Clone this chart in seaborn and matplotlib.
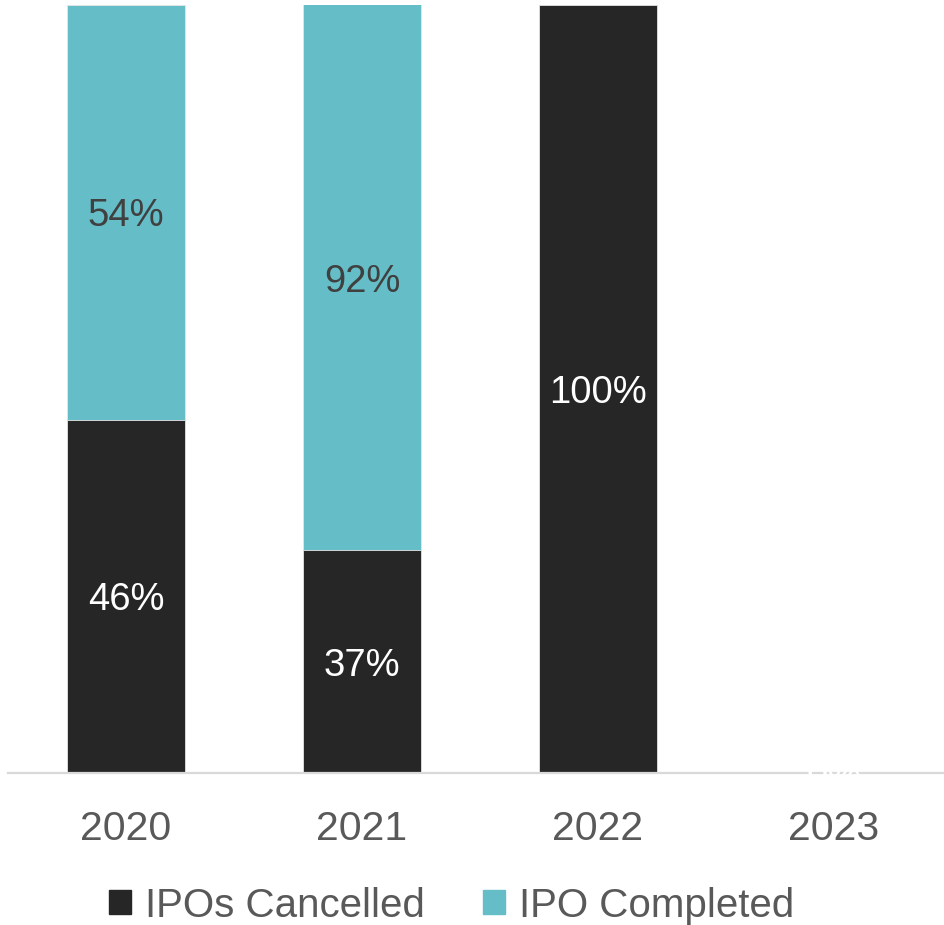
import matplotlib
matplotlib.use("Agg")
import matplotlib.pyplot as plt
from matplotlib.patches import Patch
import seaborn as sns
import pandas as pd

years = ["2020", "2021", "2022", "2023"]
cancelled = [46, 29, 100, 0]          # bar heights (% of axis)
completed = [54, 92, 0, 0]
cancelled_labels = ["46%", "37%", "100%", "0%"]
completed_labels = ["54%", "92%", None, None]
series_names = ["IPOs Cancelled", "IPO Completed"]

BLACK = "#262626"
TEAL = "#65BEC7"

sns.set_theme(style="white")
plt.rcParams["font.family"] = ["Liberation Sans", "DejaVu Sans"]

fig = plt.figure(figsize=(9.45, 9.25), dpi=100)
ax = fig.add_axes([8 / 945, 152 / 925, 944 / 945, 768 / 925])

totals = [c + p for c, p in zip(cancelled, completed)]
df_tot = pd.DataFrame({"year": years, "value": totals})
df_can = pd.DataFrame({"year": years, "value": cancelled})

sns.barplot(data=df_tot, x="year", y="value", order=years, color=TEAL,
            width=0.5, saturation=1, ax=ax, edgecolor="#e6e6e6", linewidth=0.6)
sns.barplot(data=df_can, x="year", y="value", order=years, color=BLACK,
            width=0.5, saturation=1, ax=ax, edgecolor="#e6e6e6", linewidth=0.6)

ax.set_ylim(0, 100)
ax.set_xlim(-0.5, 3.5)
ax.set_xlabel("")
ax.set_ylabel("")
ax.set_yticks([])
for s in ["top", "left", "right"]:
    ax.spines[s].set_visible(False)
ax.spines["bottom"].set_color("#d9d9d9")
ax.spines["bottom"].set_linewidth(1.6)
ax.spines["bottom"].set_zorder(1)
ax.tick_params(axis="x", length=0, pad=27, labelsize=29.5, labelcolor="#595959")

ymax = 100
for i, (c, p) in enumerate(zip(cancelled, completed)):
    cvis = min(c, ymax)
    lab = cancelled_labels[i]
    if lab is not None:
        ax.text(i, cvis / 2, lab, ha="center", va="center_baseline", color="white",
                fontsize=27.5, zorder=5, clip_on=False)
    plab = completed_labels[i]
    if plab is not None:
        top = min(c + p, ymax)
        ax.text(i, (cvis + top) / 2, plab, ha="center", va="center_baseline",
                color="#404040", fontsize=27.5, zorder=5)

handles = [Patch(facecolor=BLACK, edgecolor=BLACK), Patch(facecolor=TEAL, edgecolor=TEAL)]
leg = fig.legend(handles, series_names, loc="center", bbox_to_anchor=(0.478, 0.021),
                 ncol=2, frameon=False, handlelength=0.55, handleheight=0.55,
                 handletextpad=0.35, columnspacing=1.45,
                 prop={"family": ["Liberation Sans Narrow", "Liberation Sans", "DejaVu Sans"], "size": 29})
for t in leg.get_texts():
    t.set_color("#595959")

fig.savefig("out.png", dpi=100)
